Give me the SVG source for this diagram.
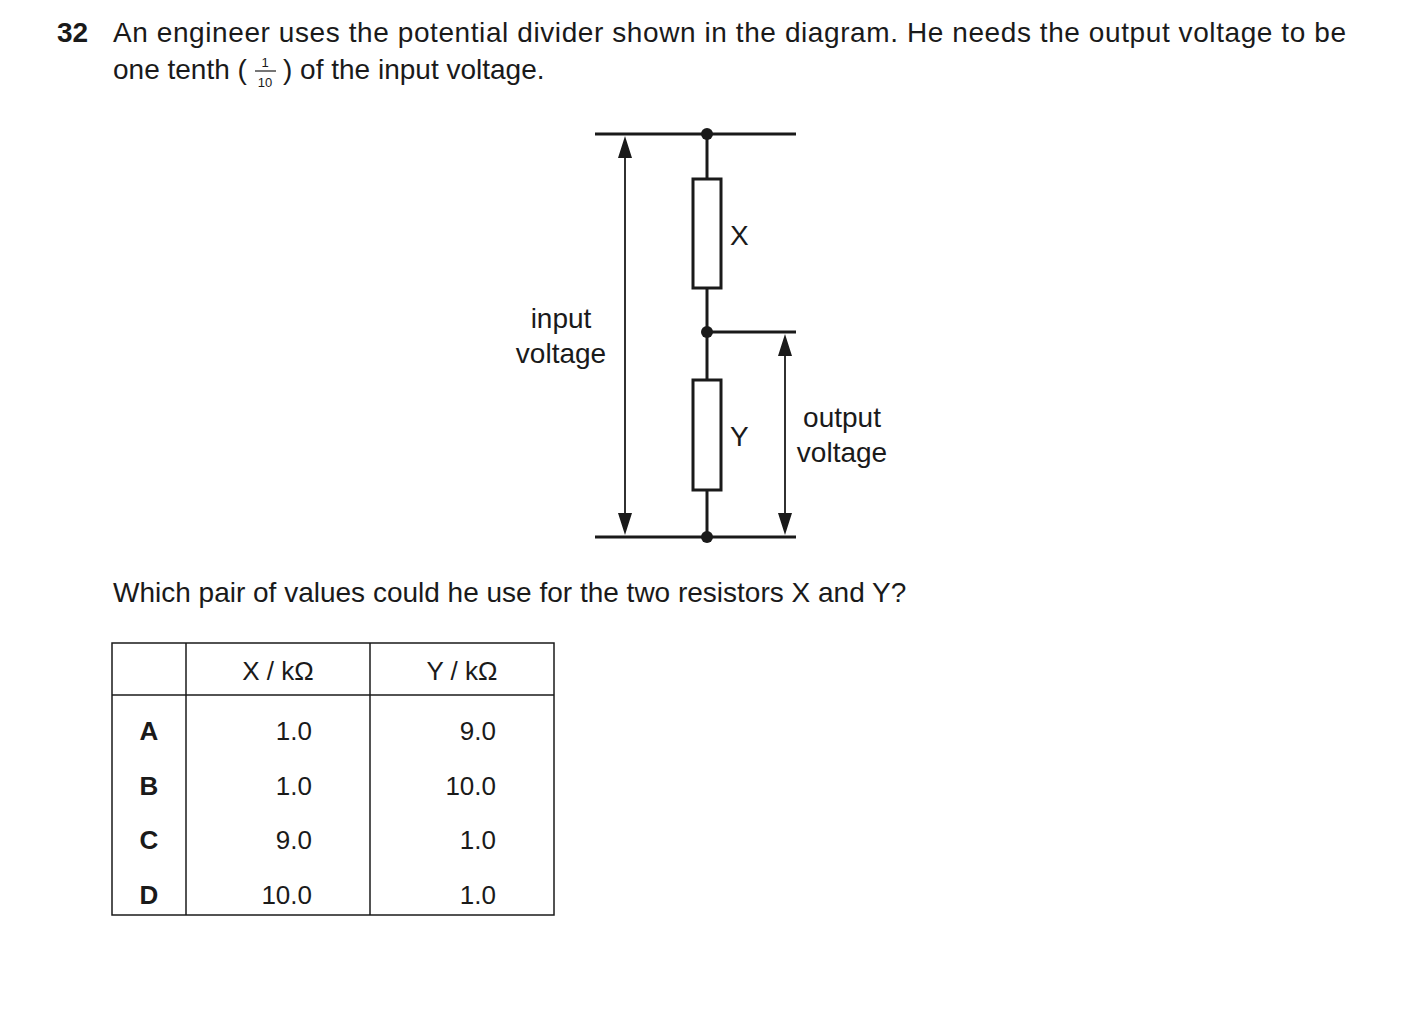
<svg xmlns="http://www.w3.org/2000/svg" width="1403" height="1009" viewBox="0 0 1403 1009">
<style>
text{font-family:"Liberation Sans",Arial,sans-serif;font-size:28px;fill:#1a1a1a}
.tb text{font-size:26px}
.w{stroke:#1a1a1a;stroke-width:3;fill:none}
.t{stroke:#1a1a1a;stroke-width:1.8;fill:none}
.r{stroke:#1a1a1a;stroke-width:3;fill:#fff}
.b{font-weight:bold}
</style>
<rect width="1403" height="1009" fill="#fff"/>
<text x="57" y="42" class="b" font-size="26">32</text>
<text x="113" y="42" textLength="1233" lengthAdjust="spacing">An engineer uses the potential divider shown in the diagram. He needs the output voltage to be</text>
<text x="113" y="79">one tenth (</text>
<text x="265" y="67" font-size="13" style="font-size:13px" text-anchor="middle">1</text>
<line x1="255" y1="71" x2="276" y2="71" stroke="#1a1a1a" stroke-width="1.2"/>
<text x="265" y="87" style="font-size:13px" text-anchor="middle">10</text>
<text x="283" y="79">) of the input voltage.</text>
<g id="connectors">
<line class="w" x1="595" y1="134" x2="796" y2="134"/>
<line class="w" x1="595" y1="537" x2="796" y2="537"/>
<line class="w" x1="707" y1="332" x2="796" y2="332"/>
<line class="w" x1="707" y1="134" x2="707" y2="179"/>
<line class="w" x1="707" y1="288" x2="707" y2="380"/>
<line class="w" x1="707" y1="490" x2="707" y2="537"/>
<line class="t" x1="625" y1="158" x2="625" y2="513"/>
<path d="M625,136 L618,158 L632,158 Z M625,535 L618,513 L632,513 Z" fill="#1a1a1a"/>
<line class="t" x1="785" y1="356" x2="785" y2="513"/>
<path d="M785,334 L778,356 L792,356 Z M785,535 L778,513 L792,513 Z" fill="#1a1a1a"/>
</g>
<g id="nodeTop"><circle cx="707" cy="134" r="6" fill="#1a1a1a"/></g>
<g id="nodeMid"><circle cx="707" cy="332" r="6" fill="#1a1a1a"/></g>
<g id="nodeBot"><circle cx="707" cy="537" r="6" fill="#1a1a1a"/></g>
<g id="resX"><rect class="r" x="693" y="179" width="28" height="109"/><text x="730" y="245">X</text></g>
<g id="resY"><rect class="r" x="693" y="380" width="28" height="110"/><text x="730" y="446">Y</text></g>
<g id="labelIn"><text x="561" y="328" text-anchor="middle">input</text><text x="561" y="363" text-anchor="middle">voltage</text></g>
<g id="labelOut"><text x="842" y="427" text-anchor="middle">output</text><text x="842" y="462" text-anchor="middle">voltage</text></g>
<text x="113" y="602">Which pair of values could he use for the two resistors X and Y?</text>
<g id="table" class="tb">
<rect x="112" y="643" width="442" height="272" fill="none" stroke="#1a1a1a" stroke-width="1.5"/>
<line x1="186" y1="643" x2="186" y2="915" stroke="#1a1a1a" stroke-width="1.5"/>
<line x1="370" y1="643" x2="370" y2="915" stroke="#1a1a1a" stroke-width="1.5"/>
<line x1="112" y1="695" x2="554" y2="695" stroke="#1a1a1a" stroke-width="1.5"/>
<text x="278" y="680" text-anchor="middle">X / kΩ</text>
<text x="462" y="680" text-anchor="middle">Y / kΩ</text>
<g text-anchor="middle">
<text x="149" y="740" class="b">A</text><text x="149" y="795" class="b">B</text><text x="149" y="849" class="b">C</text><text x="149" y="904" class="b">D</text>
</g>
<g text-anchor="end">
<text x="312" y="740">1.0</text><text x="312" y="795">1.0</text><text x="312" y="849">9.0</text><text x="312" y="904">10.0</text>
<text x="496" y="740">9.0</text><text x="496" y="795">10.0</text><text x="496" y="849">1.0</text><text x="496" y="904">1.0</text>
</g>
</g>
</svg>
